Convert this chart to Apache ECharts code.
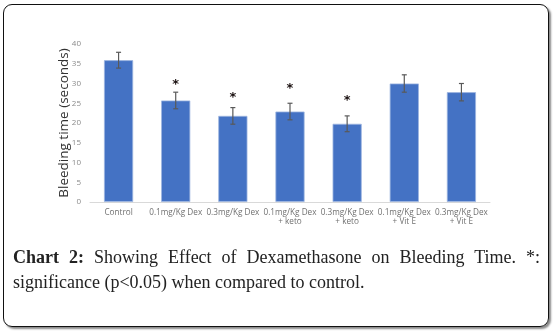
<!DOCTYPE html>
<html>
<head>
<meta charset="utf-8">
<script src="https://cdn.jsdelivr.net/npm/echarts@6/dist/echarts.min.js"></script>
<style>
  html, body { margin: 0; padding: 0; background: #fff; }
  #wrap { position: relative; width: 553px; height: 331px; overflow: hidden; }
  #frame { position: absolute; left: 3px; top: 4px; width: 544px; height: 321px;
           border: 1.3px solid #111; border-radius: 9px; box-shadow: 2px 2px 2px #8a8a8a; }
  #chart { position: absolute; left: 0; top: 0; width: 553px; height: 331px; }
  #caption { position: absolute; left: 13px; top: 245px; width: 527px;
             font-family: "Liberation Serif", "DejaVu Serif", serif; font-size: 18px; color: #222; line-height: 25px; }
  #caption .l1 { text-align: justify; text-align-last: justify; }
</style>
</head>
<body>
<div id="wrap">
  <div id="frame"></div>
  <div id="chart"></div>
  <div id="caption">
    <div class="l1"><b>Chart 2:</b> Showing Effect of Dexamethasone on Bleeding Time. *:</div>
    <div>significance (p&lt;0.05) when compared to control.</div>
  </div>
</div>
<script>
var categories = ["Control", "0.1mg/Kg Dex", "0.3mg/Kg Dex", "0.1mg/Kg Dex\n+ keto", "0.3mg/Kg Dex\n+ keto", "0.1mg/Kg Dex\n+ Vit E", "0.3mg/Kg Dex\n+ Vit E"];
var means = [35.9, 25.7, 21.8, 22.9, 19.8, 30.0, 27.8];
var errors = [2.0, 2.1, 2.1, 2.1, 2.0, 2.2, 2.2];
var starPos = [null, 30.6, 27.1, 29.4, 26.3, null, null];
var yTicks = [0, 5, 10, 15, 20, 25, 30, 35, 40];

var chart = echarts.init(document.getElementById('chart'), null, {renderer: 'canvas'});
var errData = means.map(function (m, i) { return [i, m - errors[i], m + errors[i]]; });
var starData = [];
starPos.forEach(function (v, i) { if (v != null) starData.push([i, v]); });

chart.setOption({
  animation: false,
  grid: { left: 90, right: 63, top: 44, bottom: 129 },
  xAxis: {
    type: 'category',
    data: categories,
    axisLine: { lineStyle: { color: '#d9d9d9', width: 1 } },
    axisTick: { show: false },
    axisLabel: { color: '#707070', fontSize: 8.2, fontFamily: 'Open Sans', interval: 0, lineHeight: 9, margin: 6 }
  },
  yAxis: {
    type: 'value',
    min: yTicks[0], max: yTicks[yTicks.length - 1], interval: 5,
    name: 'Bleeding time (seconds)',
    nameLocation: 'middle',
    nameGap: 19,
    nameMoveOverlap: false,
    nameTextStyle: { color: '#333333', fontSize: 13.5, fontFamily: 'Open Sans' },
    axisLine: { show: false },
    axisTick: { show: false },
    splitLine: { show: false },
    axisLabel: { color: '#8a8a8a', fontSize: 8, fontFamily: 'Open Sans', margin: 9 }
  },
  series: [
    {
      type: 'bar',
      data: means,
      barWidth: '51%',
      itemStyle: { color: '#4472C4', borderColor: '#9db5e0', borderWidth: 0.8 }
    },
    {
      type: 'custom',
      data: errData,
      z: 5,
      renderItem: function (params, api) {
        var x = api.value(0);
        var lo = api.coord([x, api.value(1)]);
        var hi = api.coord([x, api.value(2)]);
        var hw = 2.5;
        var st = { stroke: '#595959', lineWidth: 1.2 };
        return { type: 'group', children: [
          { type: 'line', shape: { x1: lo[0], y1: lo[1], x2: hi[0], y2: hi[1] }, style: st },
          { type: 'line', shape: { x1: lo[0] - hw, y1: lo[1], x2: lo[0] + hw, y2: lo[1] }, style: st },
          { type: 'line', shape: { x1: hi[0] - hw, y1: hi[1], x2: hi[0] + hw, y2: hi[1] }, style: st }
        ]};
      }
    },
    {
      type: 'custom',
      data: starData,
      z: 6,
      renderItem: function (params, api) {
        var p = api.coord([api.value(0), api.value(1)]);
        return { type: 'text', x: p[0], y: p[1] + 3, style: {
          text: '*', fill: '#1a1010', font: 'bold 13px "DejaVu Sans"', align: 'center', verticalAlign: 'middle' } };
      }
    }
  ]
});
</script>
</body>
</html>
